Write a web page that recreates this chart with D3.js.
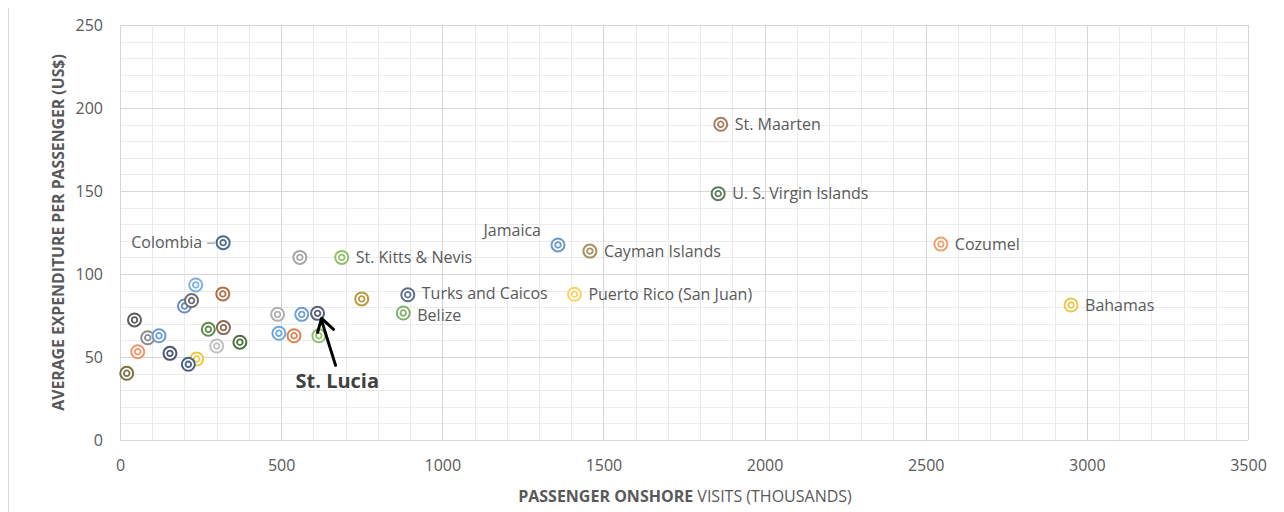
<!DOCTYPE html>
<html>
<head>
<meta charset="utf-8">
<script src="https://cdn.jsdelivr.net/npm/d3@7"></script>
<style>
  html, body { margin: 0; padding: 0; background: #ffffff; }
  svg { display: block; font-family: "Open Sans", "Noto Sans", sans-serif; }
</style>
</head>
<body>
<svg id="chart" width="1284" height="512"></svg>
<script>
// ---------- data ----------
const names = [
  "Colombia", "", "St. Kitts & Nevis", "", "", "", "", "", "", "",
  "St. Lucia", "", "", "", "", "", "", "", "", "",
  "", "", "", "", "", "",
  "Turks and Caicos", "Belize", "Puerto Rico (San Juan)", "Jamaica", "Cayman Islands",
  "St. Maarten", "U. S. Virgin Islands", "Cozumel", "Bahamas"
];
const visits = [
  320, 558, 688, 235, 319, 200, 222, 750, 489, 564,
  613, 45, 274, 321, 86, 121, 493, 540, 617, 372,
  300, 55, 155, 238, 212, 21,
  893, 879, 1410, 1359, 1458,
  1864, 1856, 2547, 2951
];
const spending = [
  118.9, 110, 110, 93.4, 88, 80.7, 84, 85, 75.7, 75.7,
  76.3, 72.3, 66.7, 67.7, 61.6, 62.8, 64.3, 62.8, 62.8, 58.9,
  56.6, 53.2, 52.2, 48.8, 45.6, 40.2,
  87.5, 76.5, 87.8, 117.5, 113.8,
  190.2, 148.4, 118, 81.3
];
const colors = [
  "#4f6a8f", "#a5a5a5", "#8fc26b", "#7fb0e0", "#b0704a", "#6a8cc8", "#6e6e6e", "#b89c40", "#b0b0b0", "#6ba0d8",
  "#56607a", "#5a5a5a", "#5e8a4e", "#8a6a55", "#8a8a8a", "#6b9ad6", "#6ba8e0", "#e08050", "#8dc06b", "#4c7040",
  "#c0c0c0", "#f0956a", "#4a5570", "#f0c840", "#4a6088", "#7a7245",
  "#5a7090", "#80b070", "#ffd060", "#6a98c8", "#a89060",
  "#a87c60", "#5e7a60", "#f0a070", "#e8c850"
];
const xTicks = [0, 500, 1000, 1500, 2000, 2500, 3000, 3500];
const yTicks = [0, 50, 100, 150, 200, 250];
const xTitleBold = "PASSENGER ONSHORE";
const xTitleRegular = " VISITS (THOUSANDS)";
const yTitle = "AVERAGE EXPENDITURE PER PASSENGER (US$)";

// ---------- layout ----------
const svg = d3.select("#chart");
const FONT = '"Open Sans", "Noto Sans", sans-serif';
const pL = 120, pR = 1248, pT = 25, pB = 440;
const x = d3.scaleLinear().domain([0, 3500]).range([pL, pR]);
const y = d3.scaleLinear().domain([0, 250]).range([pB, pT]);

// outer frame line
svg.append("line").attr("x1", 8.5).attr("x2", 8.5).attr("y1", 8).attr("y2", 512)
  .attr("stroke", "#d9d9d9").attr("stroke-width", 1);

// minor gridlines
const g = svg.append("g");
g.selectAll(".vminor").data(d3.range(0, 3501, 100).filter(v => v % 500 !== 0)).join("line")
  .attr("x1", d => Math.round(x(d)) + 0.5).attr("x2", d => Math.round(x(d)) + 0.5)
  .attr("y1", pT).attr("y2", pB).attr("stroke", "#ebebeb");
g.selectAll(".hminor").data(d3.range(0, 251, 10).filter(v => v % 50 !== 0)).join("line")
  .attr("y1", d => Math.round(y(d)) + 0.5).attr("y2", d => Math.round(y(d)) + 0.5)
  .attr("x1", pL).attr("x2", pR).attr("stroke", "#ebebeb");
// major gridlines
g.selectAll(".vmajor").data(xTicks).join("line")
  .attr("x1", d => Math.round(x(d)) + 0.5).attr("x2", d => Math.round(x(d)) + 0.5)
  .attr("y1", pT).attr("y2", pB).attr("stroke", "#d6d6d6");
g.selectAll(".hmajor").data(yTicks).join("line")
  .attr("y1", d => Math.round(y(d)) + 0.5).attr("y2", d => Math.round(y(d)) + 0.5)
  .attr("x1", pL).attr("x2", pR).attr("stroke", "#d6d6d6");

// axes (labels only)
const xAxis = svg.append("g").attr("transform", `translate(0,${pB})`)
  .call(d3.axisBottom(x).tickValues(xTicks).tickSize(0).tickPadding(0).tickFormat(d3.format("d")));
xAxis.attr("font-family", FONT).attr("font-size", 16);
xAxis.select(".domain").remove();
xAxis.selectAll("text").attr("dy", null).attr("y", 31).attr("fill", "#595959");

const yAxis = svg.append("g").attr("transform", `translate(${pL},0)`)
  .call(d3.axisLeft(y).tickValues(yTicks).tickSize(0).tickPadding(17));
yAxis.attr("font-family", FONT).attr("font-size", 16);
yAxis.select(".domain").remove();
yAxis.selectAll("text").attr("fill", "#595959");

// axis titles
const xt = svg.append("text").attr("x", (pL + pR) / 2 + 1).attr("y", 502)
  .attr("text-anchor", "middle").attr("font-size", 16).attr("fill", "#595959");
xt.append("tspan").attr("font-weight", "bold").text(xTitleBold);
xt.append("tspan").text(xTitleRegular);

svg.append("text").attr("transform", `translate(64,${(pT + pB) / 2}) rotate(-90)`)
  .attr("text-anchor", "middle").attr("font-size", 15.8).attr("font-weight", "bold")
  .attr("fill", "#595959").text(yTitle);

// ---------- points ----------
const pts = names.map((n, i) => ({ name: n, vx: visits[i], vy: spending[i], c: colors[i] }));
const marks = svg.append("g");
const pg = marks.selectAll("g").data(pts).join("g")
  .attr("transform", d => `translate(${x(d.vx)},${y(d.vy)})`);
pg.append("circle").attr("r", 6.5).attr("fill", "#fff").attr("stroke", d => d.c).attr("stroke-width", 2);
pg.append("circle").attr("r", 2.8).attr("fill", "#fff").attr("stroke", d => d.c).attr("stroke-width", 1.8);

// ---------- labels ----------
const labelColor = "#595959";
const lab = svg.append("g").attr("font-size", 16).attr("fill", labelColor);
const nudge = { "Turks and Caicos": -1, "Belize": 2 };
pts.forEach(d => {
  if (!d.name) return;
  const cx = x(d.vx), cy = y(d.vy);
  if (d.name === "Colombia") {
    lab.append("text").attr("x", cx - 21).attr("y", cy + 5.5).attr("text-anchor", "end").text(d.name);
    svg.append("line").attr("x1", cx - 16).attr("x2", cx - 8).attr("y1", cy + 0.5).attr("y2", cy + 0.5)
      .attr("stroke", "#7f7f7f").attr("stroke-width", 1);
  } else if (d.name === "Jamaica") {
    lab.append("text").attr("x", cx - 17).attr("y", cy - 9).attr("text-anchor", "end").text(d.name);
  } else if (d.name === "St. Lucia") {
    svg.append("text").attr("x", cx - 22).attr("y", cy + 75).attr("font-size", 20)
      .attr("font-weight", "bold").attr("fill", "#404040").text(d.name);
    // arrow
    const tipX = cx + 4, tipY = cy + 5;
    svg.append("line").attr("x1", tipX).attr("y1", tipY + 2).attr("x2", tipX + 14).attr("y2", tipY + 47)
      .attr("stroke", "#000").attr("stroke-width", 3).attr("stroke-linecap", "round");
    svg.append("path").attr("d", `M${tipX - 4},${tipY + 14} L${tipX},${tipY} L${tipX + 12},${tipY + 11}`)
      .attr("fill", "none").attr("stroke", "#000").attr("stroke-width", 3)
      .attr("stroke-linecap", "round").attr("stroke-linejoin", "round");
  } else {
    lab.append("text").attr("x", cx + 14).attr("y", cy + 5.5 + (nudge[d.name] || 0)).text(d.name);
  }
});
</script>
</body>
</html>
